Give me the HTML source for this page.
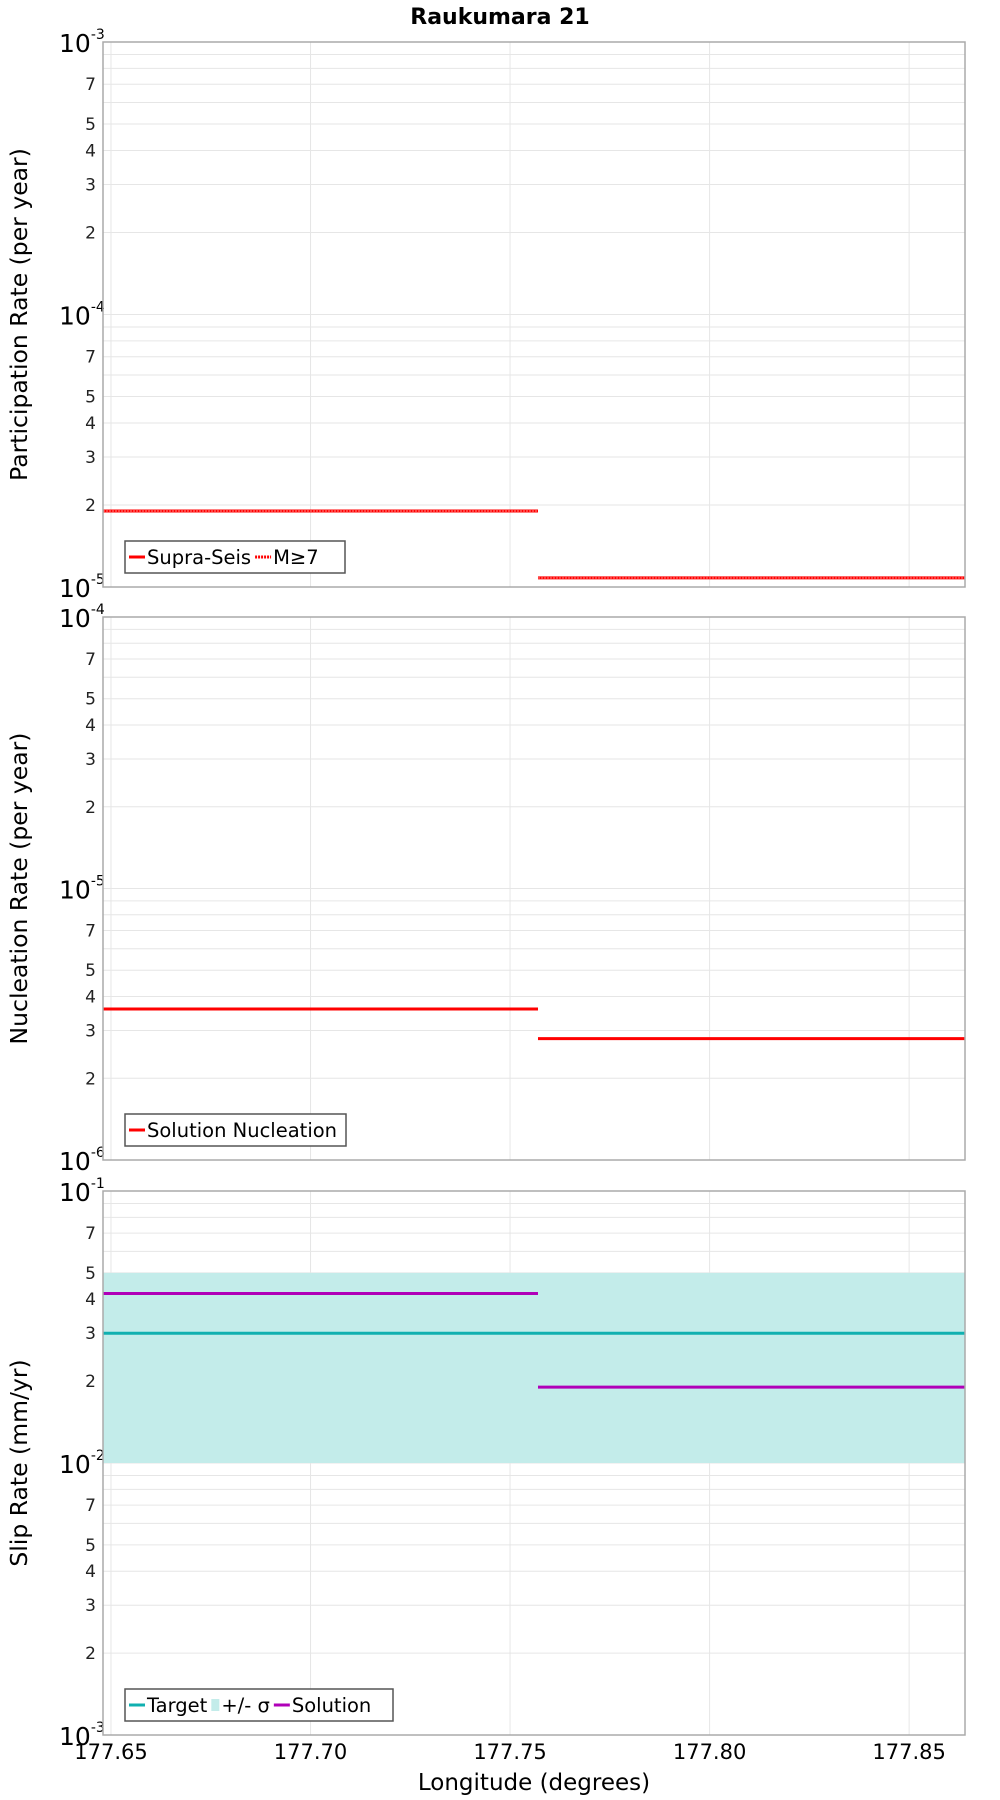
<!DOCTYPE html>
<html><head><meta charset="utf-8"><style>
body{margin:0;background:#fff;}
svg{display:block;font-family:"DejaVu Sans","Liberation Sans",sans-serif;}
</style></head><body>
<svg id="chart" width="1000" height="1800" xmlns="http://www.w3.org/2000/svg">
<text x="500" y="24" text-anchor="middle" font-size="22" font-weight="bold">Raukumara 21</text>
<g id="plots"></g>
</svg>
<script>
const xDomain = [177.648, 177.864];
const xTicks = [177.65, 177.70, 177.75, 177.80, 177.85];
const segStarts = [177.648, 177.757];
const segEnds = [177.757, 177.864];
const partValues = [1.9e-5, 1.08e-5];
const nuclValues = [3.6e-6, 2.8e-6];
const slipTarget = [0.03, 0.03];
const slipLow = [0.01, 0.01];
const slipHigh = [0.05, 0.05];
const slipSolution = [0.042, 0.019];

const NS = "http://www.w3.org/2000/svg";
const L = 103, R = 965;
const panels = [
  {name:"participation", top:42, bot:587, dmin:-5, dmax:-3, title:"Participation Rate (per year)"},
  {name:"nucleation", top:617, bot:1160, dmin:-6, dmax:-4, title:"Nucleation Rate (per year)"},
  {name:"slip", top:1191, bot:1735, dmin:-3, dmax:-1, title:"Slip Rate (mm/yr)"}
];
const g = document.getElementById("plots");
function el(tag, attrs, parent){const e=document.createElementNS(NS,tag);for(const k in attrs)e.setAttribute(k,attrs[k]);(parent||g).appendChild(e);return e;}
function xs(v){return L+(v-xDomain[0])/(xDomain[1]-xDomain[0])*(R-L);}
function ysFor(p){return v=>p.bot-(Math.log10(v)-p.dmin)/(p.dmax-p.dmin)*(p.bot-p.top);}

panels.forEach((p,pi)=>{
  const ys=ysFor(p);
  const pg=el("g",{});
  
  
  for(let d=p.dmin; d<p.dmax; d++){
    for(let m=1;m<=9;m++){
      const y=ys(m*Math.pow(10,d));
      if(m>1){ const gl=el("line",{x1:L,x2:R,y1:y,y2:y,stroke:"#e6e6e6","stroke-width":1},pg);
          }
      if([2,3,4,5,7].includes(m)){
        const t=el("text",{x:96,y:y+6,"text-anchor":"end","font-size":17,fill:"#222"},pg);
        t.textContent=m;
         
      }
    }
  }
  for(let d=p.dmin; d<=p.dmax; d++){
    const y=ys(Math.pow(10,d));
    if(d>p.dmin && d<p.dmax){ const gl=el("line",{x1:L,x2:R,y1:y,y2:y,stroke:"#e6e6e6"},pg);
        }
    const t=el("text",{x:59,y:y+10,"font-size":25,fill:"#000"},pg);
     
    t.textContent="10";
    const s=el("tspan",{dy:-13,"font-size":14},t); s.textContent=String(d);
  }
  xTicks.forEach(v=>{const gl=el("line",{x1:xs(v),x2:xs(v),y1:p.top,y2:p.bot,stroke:"#e6e6e6"},pg);
     });
  if(p.name==="participation"){
    partValues.forEach((v,i)=>{
      const a=el("line",{x1:xs(segStarts[i]),x2:xs(segEnds[i]),y1:ys(v),y2:ys(v),stroke:"#f00","stroke-width":3},pg);
       
      const b=el("line",{x1:xs(segStarts[i]),x2:xs(segEnds[i]),y1:ys(v),y2:ys(v),stroke:"#f44","stroke-width":2,"stroke-dasharray":"2,1"},pg);
       
    });
  } else if(p.name==="nucleation"){
    nuclValues.forEach((v,i)=>{
      const a=el("line",{x1:xs(segStarts[i]),x2:xs(segEnds[i]),y1:ys(v),y2:ys(v),stroke:"#f00","stroke-width":3},pg);
       
    });
  } else {
    slipLow.forEach((v,i)=>{
      const r=el("rect",{x:xs(segStarts[i]),width:xs(segEnds[i])-xs(segStarts[i]),y:ys(slipHigh[i]),height:ys(v)-ys(slipHigh[i]),fill:"#c3ecea"},pg);
       
    });
    slipTarget.forEach((v,i)=>{
      const a=el("line",{x1:xs(segStarts[i]),x2:xs(segEnds[i]),y1:ys(v),y2:ys(v),stroke:"#10b0b0","stroke-width":3},pg);
       
    });
    slipSolution.forEach((v,i)=>{
      const a=el("line",{x1:xs(segStarts[i]),x2:xs(segEnds[i]),y1:ys(v),y2:ys(v),stroke:"#b000b8","stroke-width":3},pg);
       
    });
  }
  const fr=el("rect",{x:L,y:p.top,width:R-L,height:p.bot-p.top,fill:"none",stroke:"#aaa","stroke-width":1.5},pg);
   
  const cy=(p.top+p.bot)/2;
  const yt=el("text",{x:0,y:0,"text-anchor":"middle","font-size":23.5,transform:`translate(27,${cy}) rotate(-90)`},pg);
  yt.textContent=p.title;
   
  const lg=el("g",{},pg);
   
  let items, w;
  if(p.name==="participation"){items=[["line","#f00","Supra-Seis"],["dot","#f00","M≥7"]]; w=220;}
  else if(p.name==="nucleation"){items=[["line","#f00","Solution Nucleation"]]; w=221;}
  else {items=[["line","#10b0b0","Target"],["box","#c3ecea","+/- σ"],["line","#b000b8","Solution"]]; w=268;}
  const ly=p.bot-46;
  el("rect",{x:125,y:ly,width:w,height:32,fill:"#fff",stroke:"#555","stroke-width":1.5},lg);
  let cx=129;
  items.forEach(it=>{
    const my=ly+16;
    if(it[0]==="box") el("rect",{x:cx,y:my-6,width:8,height:12,fill:it[1]},lg), cx+=10;
    else { el("line",{x1:cx,x2:cx+16,y1:my,y2:my,stroke:it[1],"stroke-width":3,"stroke-dasharray":it[0]==="dot"?"2,1":"none"},lg); cx+=18; }
    const t=el("text",{x:cx,y:my+7,"font-size":19.5},lg);
    t.textContent=it[2];
     
    cx+=t.getComputedTextLength()+4;
  });
  if(pi===2){
    xTicks.forEach(v=>{
      const t=el("text",{x:xs(v),y:p.bot+24,"text-anchor":"middle","font-size":21},pg);
      t.textContent=v.toFixed(2);
       
    });
    const xt=el("text",{x:(L+R)/2,y:1790,"text-anchor":"middle","font-size":23},pg);
    xt.textContent="Longitude (degrees)";
     
  }
});
</script>
</body></html>
